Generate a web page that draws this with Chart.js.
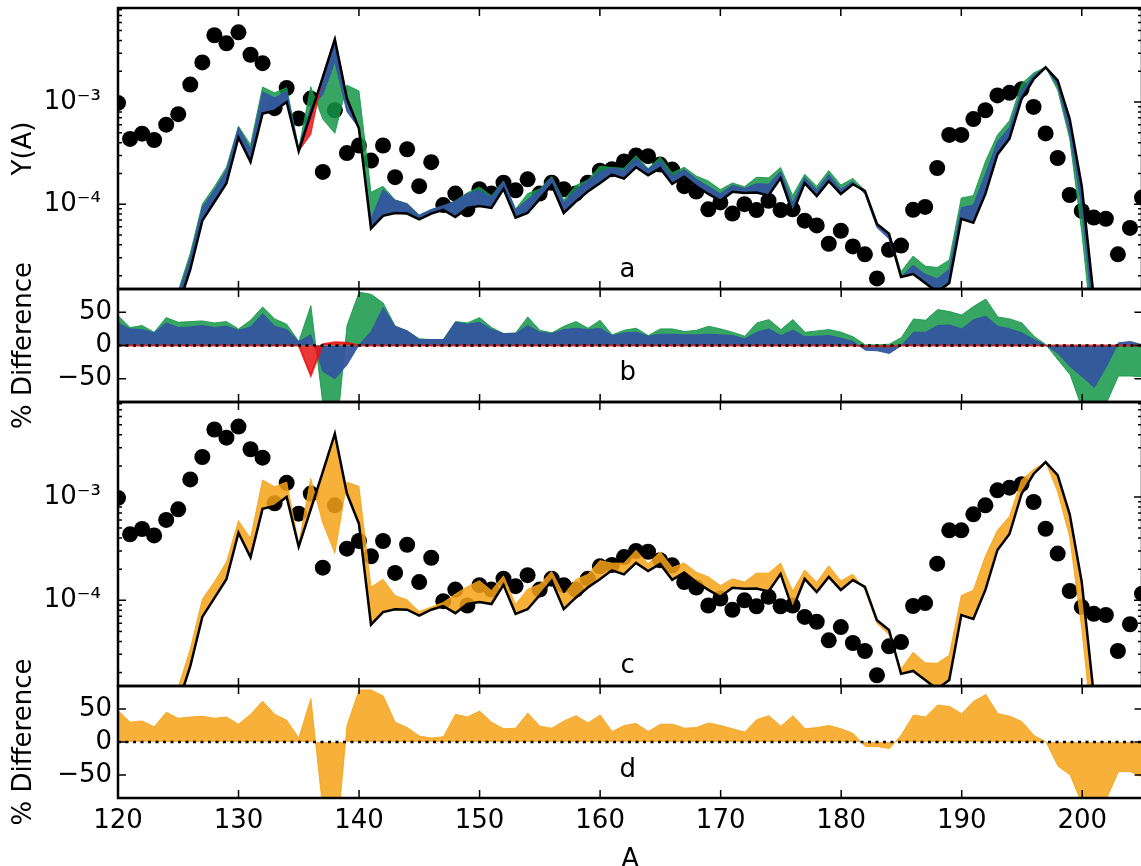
<!DOCTYPE html>
<html>
<head>
<meta charset="utf-8">
<script src="https://cdn.jsdelivr.net/npm/chart.js@4.4.1/dist/chart.umd.min.js"></script>
<style>
html, body { margin: 0; padding: 0; background: #fff; overflow: hidden; }
#wrap { position: relative; width: 1141px; height: 866px; overflow: hidden; background: #fff; }
#wrap canvas { position: absolute; left: 0; top: 0; }
</style>
</head>
<body>
<div id="wrap">
  <canvas id="pa" width="1150" height="880"></canvas>
  <canvas id="pb" width="1150" height="880"></canvas>
  <canvas id="pc" width="1150" height="880"></canvas>
  <canvas id="pd" width="1150" height="880"></canvas>
</div>
<script>
// mass number A
const A = [120,121,122,123,124,125,126,127,128,129,130,131,132,133,134,135,136,137,138,139,
  140,141,142,143,144,145,146,147,148,149,150,151,152,153,154,155,156,157,158,159,
  160,161,162,163,164,165,166,167,168,169,170,171,172,173,174,175,176,177,178,179,
  180,181,182,183,184,185,186,187,188,189,190,191,192,193,194,195,196,197,198,199,
  200,201,202,203,204,205];

// model yield (black line)
const model = [null,null,null,null,2e-6,
  1.0e-5,2.3e-5,6.9e-5,1.05e-4,1.6e-4, 4.5e-4,2.6e-4,7.7e-4,8.2e-4,1.0e-3,
  3.3e-4,7.6e-4,1.75e-3,4.1e-3,1.08e-3, 5.5e-4,5.8e-5,7.7e-5,8.2e-5,8.1e-5,
  7.1e-5,8.1e-5,8.8e-5,7.5e-5,9.2e-5, 9.6e-5,9.2e-5,1.41e-4,7.4e-5,8.2e-5,
  1.12e-4,1.54e-4,8.2e-5,1.06e-4,1.33e-4, 1.6e-4,1.95e-4,1.78e-4,2.3e-4,1.92e-4,
  2.25e-4,1.58e-4,1.86e-4,1.5e-4,1.26e-4, 1.08e-4,1.32e-4,1.29e-4,1.3e-4,1.22e-4,
  1.8e-4,8.2e-5,1.61e-4,1.2e-4,1.68e-4, 1.26e-4,1.57e-4,1.35e-4,6.4e-5,5.15e-5,
  1.94e-5,2.07e-5,1.69e-5,1.38e-5,1.69e-5, 7.2e-5,6.6e-5,1.26e-4,3.07e-4,4.38e-4,
  1.07e-3,1.67e-3,2.18e-3,1.63e-3,6.8e-4, 1.5e-4,1.2e-5,null,null,null,null];

// measured yield (dots)
const measured = [9.8e-4,4.35e-4,4.9e-4,4.25e-4,6.0e-4,
  7.6e-4,1.48e-3,2.44e-3,4.5e-3,3.75e-3, 4.8e-3,2.9e-3,2.4e-3,8.7e-4,1.37e-3,
  6.9e-4,1.08e-3,2.07e-4,8.3e-4,3.16e-4, 3.75e-4,2.67e-4,3.75e-4,1.84e-4,3.45e-4,
  1.5e-4,2.58e-4,9.8e-5,1.27e-4,8.9e-5, 1.4e-4,1.27e-4,1.62e-4,1.37e-4,1.75e-4,
  1.27e-4,1.62e-4,1.4e-4,1.27e-4,1.62e-4, 2.13e-4,2.2e-4,2.62e-4,3.0e-4,2.95e-4,
  2.44e-4,2.18e-4,1.5e-4,1.33e-4,8.9e-5, 1.04e-4,8.1e-5,1.0e-4,8.75e-5,1.08e-4,
  8.75e-5,8.9e-5,6.9e-5,6.2e-5,4.1e-5, 5.5e-5,3.86e-5,3.23e-5,1.88e-5,3.58e-5,
  3.94e-5,8.8e-5,9.4e-5,2.26e-4,4.76e-4, 4.76e-4,6.8e-4,8.3e-4,1.16e-3,1.23e-3,
  1.33e-3,8.95e-4,4.93e-4,2.83e-4,1.23e-4, 8.6e-5,7.4e-5,7.2e-5,3.23e-5,5.86e-5,1.16e-4];

// % difference of each variant from the model
const diffGreen = [45,27,30,20,42, 35,36,37,34,36, 25,38,58,40,32, 6,60,-88,-157,30,
  80,77,64,29,22, 10,9,9,36,34, 42,27,18,19,43, 23,19,29,36,26,
  38,16,23,26,15, 25,25,21,23,29, 25,20,14,34,39, 24,39,20,22,24,
  20,13,1,1,2, 12,40,38,54,51, 46,59,70,43,40, 34,14,1,-22,-44,
  -95,-100,-87,-46,-46,-47];
const diffBlue = [34,25,24,19,34, 27,28,30,27,29, 23,28,48,29,24, 6,16,-39,-50,-29,
  1,21,57,29,22, 9,9,9,35,32, 35,24,18,18,30, 20,18,24,26,24,
  26,15,19,20,14, 17,17,16,16,17, 16,15,10,20,25, 15,23,13,14,15,
  11,6,-7,-8,-12, 0,20,20,30,31, 25,39,44,29,25, 19,9,0,-12,-32,
  -47,-63,-32,4,6,1];
const diffRed = [0,0,0,0,0, 0,0,0,0,0, 0,0,0,0,0, 0,-45,2,5,4,
  0,0,0,0,0, 0,0,0,0,0, 0,0,0,0,0, 0,0,0,0,0,
  0,0,0,0,0, 0,0,0,0,0, 0,0,0,0,0, 0,0,0,0,0,
  0,0,-1,-1,-1, 0,0,0,0,0, 0,0,0,0,0, 0,0,0,0,0,
  0,0,0,0,0,0];
const diffOrange = [48,30,32,23,45, 36,38,39,36,38, 27,42,62,42,33, 6,66,-103,-174,25,
  79,79,70,30,22, 9,6,8,42,38, 47,30,20,21,44, 24,21,32,40,29,
  41,16,25,28,16, 27,27,21,22,29, 25,20,15,34,40, 24,40,20,22,25,
  20,13,-7,-7,-10, 11,41,38,56,54, 43,62,72,43,39, 31,10,0,-37,-50,
  -95,-100,-87,-45,-45,-53];

const xTicks = [120,130,140,150,160,170,180,190,200];
const logTicks = [1e-4, 1e-3];
const logTickText = ['10\u207B\u2074', '10\u207B\u00B3'];
const diffTicks = [-50, 0, 50];
const diffTickText = ['\u221250', '0', '50'];

const GREEN = 'rgba(20,150,70,0.85)';
const BLUE = 'rgba(52,86,158,0.95)';
const RED = 'rgba(231,20,20,0.85)';
const ORANGE = 'rgba(246,162,23,0.85)';

const FONT = { family: 'DejaVu Sans', size: 26 };
const W = 1150, H = 880, PLOT_L = 118, PLOT_R = 1142.5;
const X_MIN = 120, X_MAX = 205;
const Y_MIN = 1.48e-5, Y_MAX = 8.31e-3;

const pts = ys => A.map((a, i) => ({ x: a, y: ys[i] }));
// variant yield from the symmetric % difference shown in the lower panels
const bandPts = p => A.map((a, i) => ({
  x: a,
  y: model[i] == null ? null : model[i] * (200 + p[i]) / (200 - p[i])
}));

const framePlugin = {
  id: 'frame',
  afterDraw(chart, args, o) {
    const { ctx, chartArea: { left, right, top, bottom }, scales: { x, y } } = chart;
    ctx.save();
    if (o.zero) {
      const y0 = y.getPixelForValue(0);
      ctx.strokeStyle = '#000';
      ctx.lineWidth = 2.5;
      ctx.setLineDash([3, 4.5]);
      ctx.beginPath();
      ctx.moveTo(left, y0);
      ctx.lineTo(right, y0);
      ctx.stroke();
      ctx.setLineDash([]);
    }
    ctx.strokeStyle = '#000';
    ctx.lineWidth = 1.5;
    ctx.beginPath();
    xTicks.forEach(v => {
      const px = x.getPixelForValue(v);
      ctx.moveTo(px, top); ctx.lineTo(px, top + 8);
      ctx.moveTo(px, bottom); ctx.lineTo(px, bottom - 8);
    });
    const yTick = (v, len) => {
      const py = y.getPixelForValue(v);
      if (py < top || py > bottom) return;
      ctx.moveTo(left, py); ctx.lineTo(left + len, py);
      ctx.moveTo(right, py); ctx.lineTo(right - len, py);
    };
    if (o.log) {
      logTicks.forEach(v => yTick(v, 8));
      [-5, -4, -3].forEach(e => {
        for (let m = 2; m <= 9; m++) yTick(m * Math.pow(10, e), 4);
      });
    } else {
      diffTicks.forEach(v => yTick(v, 8));
    }
    ctx.stroke();
    ctx.lineWidth = 2.5;
    ctx.strokeRect(left, top, right - left, bottom - top);
    ctx.fillStyle = '#000';
    ctx.font = '26px "DejaVu Sans"';
    ctx.textAlign = 'center';
    ctx.textBaseline = 'alphabetic';
    ctx.fillText(o.letter, x.getPixelForValue(162.3), o.letterY);
    ctx.restore();
  }
};

function makePanel(id, p) {
  const isLog = p.log;
  let datasets;
  if (isLog) {
    datasets = [{ data: pts(model), borderColor: '#000', borderWidth: 2.5, pointRadius: 0, fill: false, order: 1 }];
    p.bands.forEach((b, k) => datasets.push({
      data: bandPts(b.diff), borderColor: b.color, backgroundColor: b.color,
      borderWidth: 1, pointRadius: 0, fill: { target: 0 }, order: 2 + k
    }));
    datasets.push({ data: pts(measured), showLine: false, pointRadius: 8, pointBackgroundColor: '#000',
      pointBorderWidth: 0, order: 20 });
  } else {
    datasets = p.bands.map((b, k) => ({
      data: pts(b.diff), borderColor: b.color, backgroundColor: b.color,
      borderWidth: b.lw || 1, pointRadius: 0, fill: 'origin', order: 2 + k
    }));
  }
  const yScale = {
    type: isLog ? 'logarithmic' : 'linear',
    min: isLog ? Y_MIN : -85,
    max: isLog ? Y_MAX : 85,
    grid: { display: false, drawTicks: false },
    border: { display: false },
    afterBuildTicks: s => { s.ticks = (isLog ? logTicks : diffTicks).map(v => ({ value: v })); },
    ticks: {
      font: FONT, color: '#000', padding: isLog ? 17 : 6,
      callback: (v, i) => (isLog ? logTickText : diffTickText)[i]
    },
    afterFit: s => { s.width = PLOT_L; s.paddingTop = 0; s.paddingBottom = 0; },
    title: { display: !!p.title, text: p.title || '', font: FONT, color: '#000', padding: { top: 9, bottom: 0 } }
  };
  const xScale = {
    type: 'linear', min: X_MIN, max: X_MAX,
    display: !!p.xAxis,
    grid: { display: false, drawTicks: false },
    border: { display: false },
    afterBuildTicks: s => { s.ticks = xTicks.map(v => ({ value: v })); },
    ticks: { font: FONT, color: '#000', padding: 8, maxRotation: 0, autoSkip: false },
    afterFit: s => {
      if (!p.xAxis) return;
      s.height = H - p.bottom; s.paddingLeft = 0; s.paddingRight = 0;
    },
    title: { display: true, text: 'A', font: FONT, color: '#000', padding: { top: 0, bottom: 4 } }
  };
  return new Chart(document.getElementById(id), {
    type: 'line',
    data: { datasets },
    plugins: [framePlugin],
    options: {
      responsive: false, animation: false, devicePixelRatio: 1, events: [],
      layout: { padding: { left: 0, right: W - PLOT_R, top: p.top, bottom: p.xAxis ? 0 : H - p.bottom } },
      elements: { line: { tension: 0 } },
      plugins: {
        legend: { display: false }, tooltip: { enabled: false },
        frame: { log: isLog, zero: !isLog, letter: p.letter, letterY: p.letterY }
      },
      scales: { x: xScale, y: yScale }
    }
  });
}

makePanel('pa', { log: true, top: 5, bottom: 289, title: 'Y(A)', letter: 'a', letterY: 277,
  bands: [{ diff: diffRed, color: RED }, { diff: diffBlue, color: BLUE }, { diff: diffGreen, color: GREEN }] });
makePanel('pb', { log: false, top: 289, bottom: 402, title: '% Difference', letter: 'b', letterY: 380,
  bands: [{ diff: diffRed, color: RED, lw: 2 }, { diff: diffBlue, color: BLUE }, { diff: diffGreen, color: GREEN }] });
makePanel('pc', { log: true, top: 402, bottom: 686, title: '', letter: 'c', letterY: 673,
  bands: [{ diff: diffOrange, color: ORANGE }] });
makePanel('pd', { log: false, top: 686, bottom: 798, title: '% Difference', letter: 'd', letterY: 777, xAxis: true,
  bands: [{ diff: diffOrange, color: ORANGE }] });
</script>
</body>
</html>
